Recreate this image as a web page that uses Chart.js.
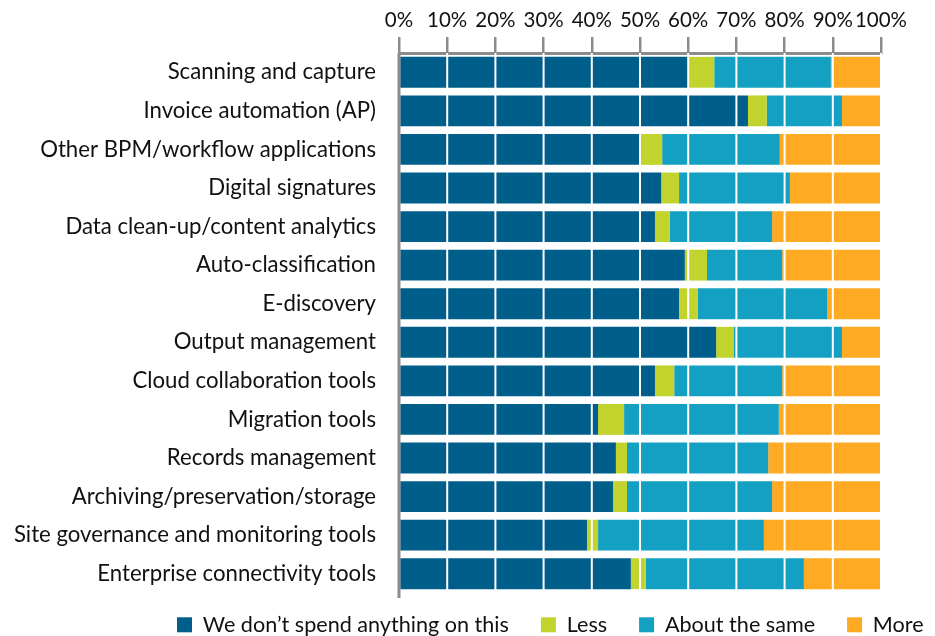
<!DOCTYPE html>
<html>
<head>
<meta charset="utf-8">
<script src="https://cdn.jsdelivr.net/npm/chart.js@4/dist/chart.umd.min.js"></script>
<style>
  html, body { margin: 0; padding: 0; background: #fff; }
  #chart { display: block; }
</style>
</head>
<body>
<canvas id="chart" width="935" height="636"></canvas>
<script>
// categories, top to bottom
const categories = [
    'Scanning and capture',
    'Invoice automation (AP)',
    'Other BPM/workflow applications',
    'Digital signatures',
    'Data clean-up/content analytics',
    'Auto-classification',
    'E-discovery',
    'Output management',
    'Cloud collaboration tools',
    'Migration tools',
    'Records management',
    'Archiving/preservation/storage',
    'Site governance and monitoring tools',
    'Enterprise connectivity tools'
];

// series values (percent of respondents)
const dontSpend = [60, 72.4, 50, 54.4, 53.1, 59.3, 58.1, 65.8, 53.1, 41.3, 45.0, 44.4, 39.0, 48.1];
const less      = [5.4, 3.9, 4.6, 3.7, 3.1, 4.6, 3.9, 3.7, 4.0, 5.4, 2.3, 2.9, 2.3, 3.1];
const same      = [24.2, 15.6, 24.4, 23.0, 21.2, 15.6, 26.8, 22.4, 22.4, 32.1, 29.3, 30.1, 34.4, 32.8];
const more      = [10.4, 8.1, 21.0, 18.9, 22.6, 20.5, 11.2, 8.1, 20.5, 21.2, 23.4, 22.6, 24.3, 16.0];

const seriesNames = ['We don\u2019t spend anything on this', 'Less', 'About the same', 'More'];
const xTicks = [0, 10, 20, 30, 40, 50, 60, 70, 80, 90, 100];

const FONT = 'Lato, "Open Sans", sans-serif';
const AXIS_GREY = '#8c8c8c';
const LEGEND_PAD = 32;

// white gridlines drawn over the bars, then the grey left axis on top
const overGrid = {
    id: 'overGrid',
    afterDatasetsDraw(chart) {
        const { ctx, chartArea, scales } = chart;
        ctx.save();
        ctx.strokeStyle = '#ffffff';
        ctx.lineWidth = 2;
        xTicks.forEach(function (t) {
            if (t === 0) return;
            const x = scales.x.getPixelForValue(t);
            ctx.beginPath();
            ctx.moveTo(x, chartArea.top);
            ctx.lineTo(x, chartArea.bottom);
            ctx.stroke();
        });
        ctx.strokeStyle = AXIS_GREY;
        ctx.lineWidth = 3;
        ctx.beginPath();
        ctx.moveTo(chartArea.left, chartArea.top);
        ctx.lineTo(chartArea.left, chartArea.bottom + 5);
        ctx.stroke();
        ctx.restore();
    }
};

// keep the legend short and place it like the original (wide gaps, shifted right,
// last item allowed to run to the canvas edge)
const legendPlace = {
    id: 'legendPlace',
    beforeLayout(chart) {
        const lg = chart.legend;
        if (lg && !lg._patched) {
            const origFit = lg.fit;
            lg.fit = function () {
                this.maxWidth = 1200;
                origFit.call(this);
                this.height = 43;
            };
            lg._patched = true;
        }
    },
    afterLayout(chart) {
        const lg = chart.legend;
        if (!lg) return;
        lg.left = 177 - LEGEND_PAD;
        lg.right = 1200;
        lg.width = lg.right - lg.left;
        lg.top = 614 - LEGEND_PAD;
        lg.bottom = 636;
        lg.height = lg.bottom - lg.top;
    }
};

const ctx = document.getElementById('chart');
new Chart(ctx.getContext('2d'), {
    type: 'bar',
    data: {
        labels: categories,
        datasets: [
            { label: seriesNames[0], data: dontSpend, backgroundColor: '#005e8a' },
            { label: seriesNames[1], data: less, backgroundColor: '#c2d32e' },
            { label: seriesNames[2], data: same, backgroundColor: '#14a0c2' },
            { label: seriesNames[3], data: more, backgroundColor: '#feaa22' }
        ]
    },
    options: {
        indexAxis: 'y',
        responsive: false,
        animation: false,
        layout: { padding: { left: 0, right: 54, top: 0, bottom: 0 } },
        datasets: { bar: { barPercentage: 0.8, categoryPercentage: 1.0, borderWidth: 0 } },
        scales: {
            x: {
                position: 'top',
                stacked: true,
                min: 0,
                max: 100,
                afterBuildTicks(scale) {
                    scale.ticks = xTicks.map(function (v) { return { value: v }; });
                },
                afterFit(scale) { scale.height = 53; },
                ticks: {
                    callback: function (v) { return v + '%'; },
                    color: '#111',
                    font: { family: FONT, size: 20.5 },
                    padding: 4,
                    maxRotation: 0,
                    autoSkip: false
                },
                grid: {
                    drawOnChartArea: false,
                    drawTicks: true,
                    tickLength: 16,
                    color: AXIS_GREY,
                    lineWidth: 2.5
                },
                border: { display: true, color: AXIS_GREY, width: 3 }
            },
            y: {
                stacked: true,
                afterFit(scale) { scale.width = 399; },
                ticks: {
                    color: '#111',
                    font: { family: FONT, size: 22.2 },
                    padding: 23
                },
                grid: { display: false, drawTicks: false },
                border: { display: false }
            }
        },
        plugins: {
            legend: {
                position: 'bottom',
                align: 'start',
                labels: {
                    color: '#111',
                    font: { family: FONT, size: 21.6 },
                    boxWidth: 15,
                    boxHeight: 15,
                    padding: LEGEND_PAD
                }
            },
            tooltip: { enabled: false }
        }
    },
    plugins: [overGrid, legendPlace]
});
</script>
</body>
</html>
